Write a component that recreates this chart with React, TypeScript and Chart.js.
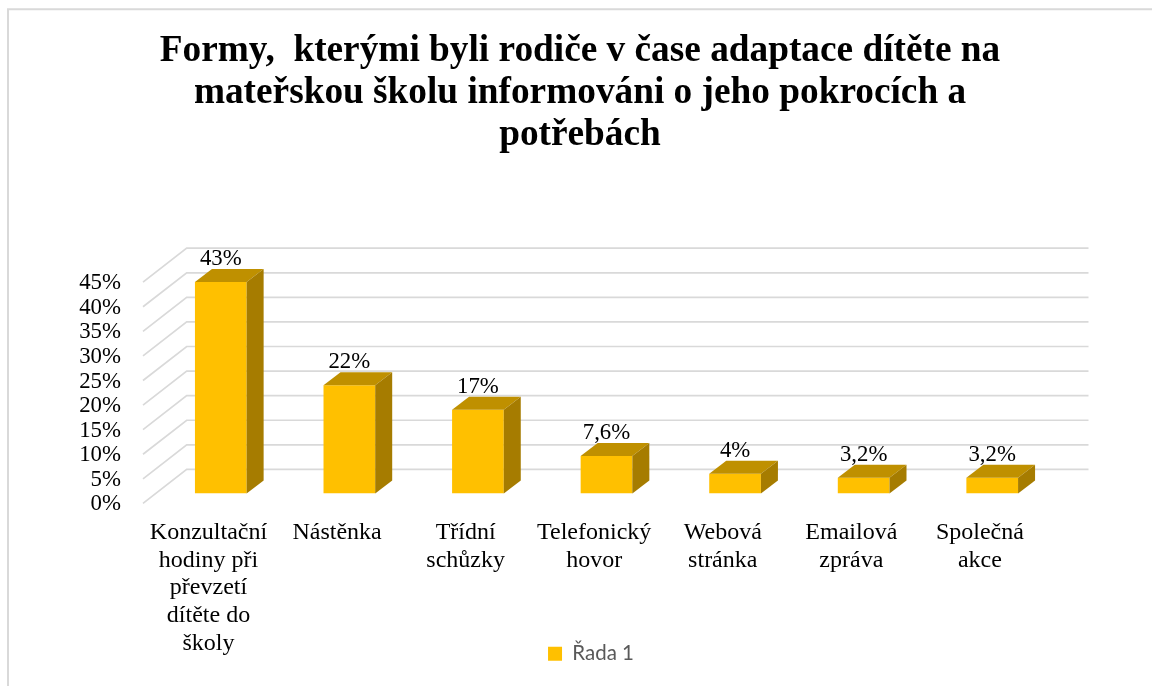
import React, { useEffect, useRef } from "react";
import { Chart, registerables } from "chart.js";

Chart.register(...registerables);

const titleLines = [
  "Formy,  kterými byli rodiče v čase adaptace dítěte na",
  "mateřskou školu informováni o jeho pokrocích a",
  "potřebách",
];
const categories = [
  ["Konzultační", "hodiny při", "převzetí", "dítěte do", "školy"],
  ["Nástěnka"],
  ["Třídní", "schůzky"],
  ["Telefonický", "hovor"],
  ["Webová", "stránka"],
  ["Emailová", "zpráva"],
  ["Společná", "akce"],
];
const seriesName = "Řada 1";
const values = [43, 22, 17, 7.6, 4, 3.2, 3.2];
const valueLabels = ["43%", "22%", "17%", "7,6%", "4%", "3,2%", "3,2%"];

const SERIF = '"Liberation Serif", "Times New Roman", serif';
const PLOT = { left: 156.5, right: 1056.5, bottom: 493.3 };
const LEGEND_TOP = 669.4;

const threeD = {
  id: "threeD",
  afterLayout(chart: any) {
    chart.legend.left += 11;
    chart.legend.right += 11;
    chart.legend.top -= 32;
    chart.legend.bottom -= 32;
  },
  beforeDraw(chart: any) {
    const { ctx } = chart;
    ctx.save();
    ctx.strokeStyle = "#d9d9d9";
    ctx.lineWidth = 2;
    ctx.beginPath();
    ctx.moveTo(8, 686);
    ctx.lineTo(8, 9.3);
    ctx.lineTo(1152, 9.3);
    ctx.stroke();
    ctx.restore();
  },
  beforeDatasetsDraw(chart: any) {
    const { ctx, scales } = chart;
    const y = scales.y;
    ctx.save();
    ctx.strokeStyle = "#d9d9d9";
    ctx.lineWidth = 1.7;
    y.ticks.forEach((t: any) => {
      const p = y.getPixelForValue(t.value);
      ctx.beginPath();
      ctx.moveTo(143, p + 10);
      ctx.lineTo(186.7, p - 24);
      ctx.lineTo(1088.5, p - 24);
      ctx.stroke();
    });
    ctx.restore();
  },
  afterDatasetsDraw(chart: any) {
    const { ctx } = chart;
    const dx = 17;
    const dy = 13;
    const bars = chart.getDatasetMeta(0).data;
    ctx.save();
    bars.forEach((b: any, i: number) => {
      const l = b.x - b.width / 2;
      const r = b.x + b.width / 2;
      ctx.fillStyle = "#BF9000";
      ctx.beginPath();
      ctx.moveTo(l, b.y);
      ctx.lineTo(l + dx, b.y - dy);
      ctx.lineTo(r + dx, b.y - dy);
      ctx.lineTo(r, b.y);
      ctx.closePath();
      ctx.fill();
      ctx.fillStyle = "#A67C00";
      ctx.beginPath();
      ctx.moveTo(r, b.y);
      ctx.lineTo(r + dx, b.y - dy);
      ctx.lineTo(r + dx, b.base - dy);
      ctx.lineTo(r, b.base);
      ctx.closePath();
      ctx.fill();
      ctx.fillStyle = "#000";
      ctx.font = `22.8px ${SERIF}`;
      ctx.textAlign = "center";
      ctx.textBaseline = "middle";
      ctx.fillText(valueLabels[i], b.x, b.y - 23);
    });
    ctx.restore();
  },
};

export default function App() {
  const ref = useRef<HTMLCanvasElement>(null);
  useEffect(() => {
    document.body.style.margin = "0";
    const chart = new Chart(ref.current!, {
      type: "bar",
      data: {
        labels: categories,
        datasets: [
          {
            label: seriesName,
            data: values,
            backgroundColor: "#FFC000",
            barPercentage: 0.402,
            categoryPercentage: 1,
          },
        ],
      },
      options: {
        responsive: false,
        animation: false,
        layout: { padding: { left: 8, right: 0, top: 0, bottom: -20 } },
        plugins: {
          tooltip: { enabled: false },
          title: {
            display: true,
            text: titleLines,
            color: "#000",
            font: { family: SERIF, size: 37.3, weight: "bold", lineHeight: 1.126 },
            padding: { top: 30, bottom: 116.2 },
          },
          legend: {
            position: "bottom",
            labels: {
              boxWidth: 14,
              boxHeight: 14,
              color: "#595959",
              font: { family: 'Lato, "Open Sans", sans-serif', size: 20.5 },
              padding: 6,
            },
          },
        },
        scales: {
          x: {
            grid: { display: false, drawTicks: false },
            border: { display: false },
            ticks: {
              color: "#000",
              font: { family: SERIF, size: 24, lineHeight: 1.154 },
              labelOffset: -12.3,
              maxRotation: 0,
              minRotation: 0,
              autoSkip: false,
              padding: 25.5,
            },
            afterFit(s: any) {
              s.height = LEGEND_TOP - PLOT.bottom;
            },
          },
          y: {
            min: 0,
            max: 45,
            grid: { display: false, drawTicks: false },
            border: { display: false },
            ticks: {
              stepSize: 5,
              autoSkip: false,
              color: "#000",
              font: { family: SERIF, size: 22.8 },
              labelOffset: 11,
              padding: 35.5,
              callback: (v: any) => `${v}%`,
            },
            afterFit(s: any) {
              s.width = PLOT.left - 8;
            },
          },
          yRight: {
            position: "right",
            grid: { display: false, drawTicks: false },
            border: { display: false },
            ticks: { display: false },
            afterFit(s: any) {
              s.width = 1152 - PLOT.right;
            },
          },
        },
      },
      plugins: [threeD],
    } as any);
    return () => chart.destroy();
  }, []);
  return <canvas ref={ref} width={1152} height={686} style={{ display: "block", background: "#fff" }} />;
}
